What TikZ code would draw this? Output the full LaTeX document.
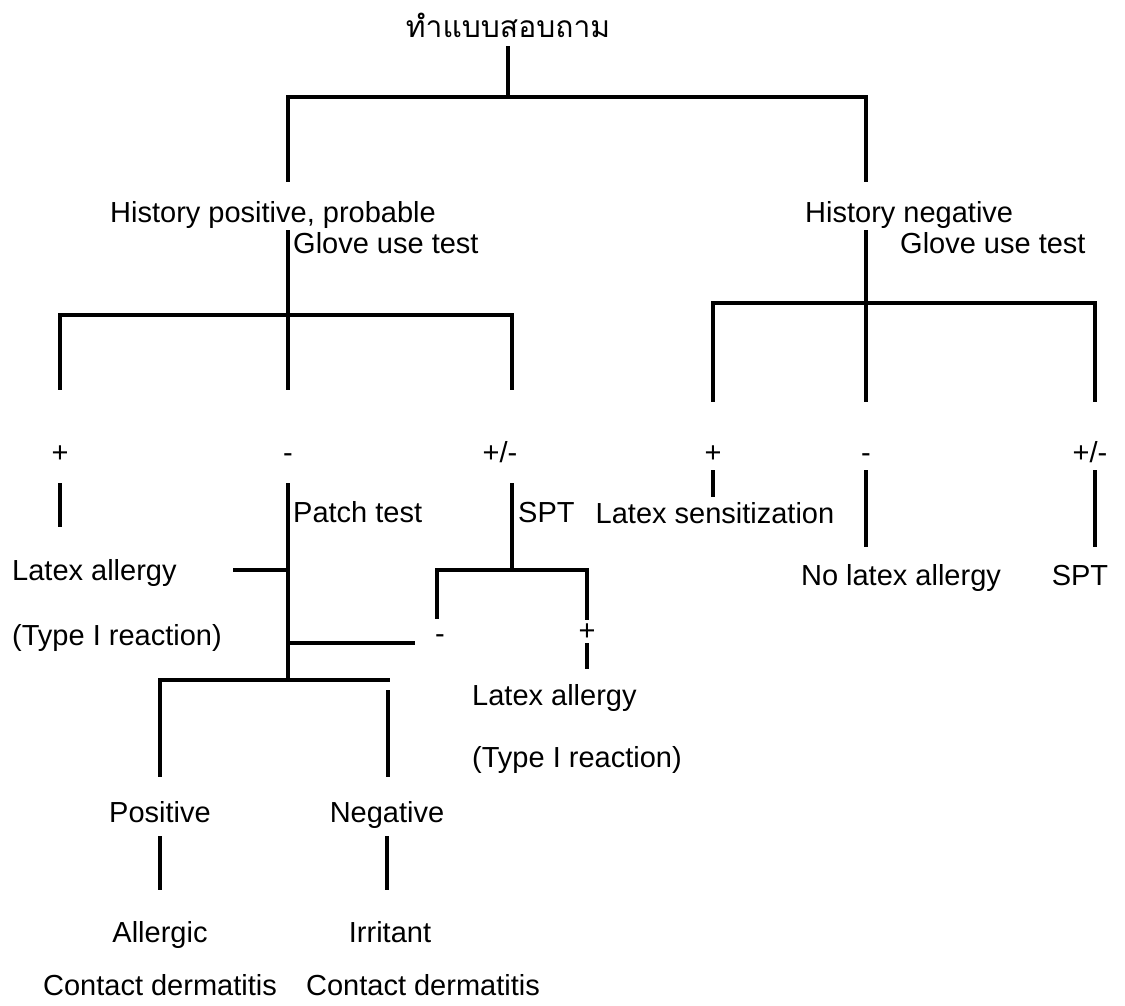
\documentclass[tikz,border=0pt]{standalone}
\usepackage{fontspec}
\setmainfont{Liberation Sans}
\newfontfamily\thaifont[Script=Thai]{Loma}
\begin{document}
\begin{tikzpicture}[x=1pt,y=-1pt,
  lbl/.style={inner sep=0pt, font=\fontsize{29}{34}\selectfont},
  conn/.style={line width=3.1pt, line cap=rect, line join=miter}]
\useasboundingbox (0,0) rectangle (1125,1005);
% ---------- text nodes ----------
\node[lbl, anchor=base, font=\thaifont\fontsize{30}{36}\selectfont] (title) at (508,37) {ทำแบบสอบถาม};
\node[lbl, anchor=base west] (hp) at (110,222) {History positive, probable};
\node[lbl, anchor=base west] (hn) at (805,222) {History negative};
\node[lbl, anchor=base west] (g1) at (293,253) {Glove use test};
\node[lbl, anchor=base west] (g2) at (900,253) {Glove use test};
\node[lbl, anchor=base] (p1) at (60,462) {+};
\node[lbl, anchor=base] (m1) at (288,462) {-};
\node[lbl, anchor=base] (pm1) at (500,462) {+/-};
\node[lbl, anchor=base] (p2) at (713,462) {+};
\node[lbl, anchor=base] (m2) at (866,462) {-};
\node[lbl, anchor=base] (pm2) at (1090,462) {+/-};
\node[lbl, anchor=base west] (la1) at (12,580) {Latex allergy};
\node[lbl, anchor=base west] (t1) at (12,645) {(Type I reaction)};
\node[lbl, anchor=base west] (pt) at (293,522) {Patch test};
\node[lbl, anchor=base west] (spt1) at (518,522) {SPT};
\node[lbl, anchor=base] (ls) at (715,523) {Latex sensitization};
\node[lbl, anchor=base] (nla) at (901,585) {No latex allergy};
\node[lbl, anchor=base] (spt2) at (1080,585) {SPT};
\node[lbl, anchor=base] (sm) at (440,643) {-};
\node[lbl, anchor=base] (sp) at (587,640) {+};
\node[lbl, anchor=base west] (la2) at (472,705) {Latex allergy};
\node[lbl, anchor=base west] (t2) at (472,767) {(Type I reaction)};
\node[lbl, anchor=base] (pos) at (160,822) {Positive};
\node[lbl, anchor=base] (neg) at (387,822) {Negative};
\node[lbl, anchor=base] (alg) at (160,942) {Allergic};
\node[lbl, anchor=base] (irr) at (390,942) {Irritant};
\node[lbl, anchor=base] (cd1) at (160,995) {Contact dermatitis};
\node[lbl, anchor=base] (cd2) at (423,995) {Contact dermatitis};
% ---------- junction coordinates ----------
\coordinate (a0) at (508,48);   \coordinate (a1) at (508,97);
\coordinate (b1) at (288,97);   \coordinate (b2) at (866,97);
\coordinate (b1d) at (288,180); \coordinate (b2d) at (866,180);
\coordinate (c0) at (288,232);  \coordinate (c1) at (288,388);
\coordinate (c2) at (60,315);   \coordinate (c3) at (512,315);
\coordinate (c2d) at (60,388);  \coordinate (c3d) at (512,388);
\coordinate (d0) at (866,232);  \coordinate (d1) at (866,400);
\coordinate (d2) at (713,303);  \coordinate (d3) at (1095,303);
\coordinate (d2d) at (713,400); \coordinate (d3d) at (1095,400);
\coordinate (e0) at (60,485);   \coordinate (e1) at (60,525);
\coordinate (f0) at (288,485);  \coordinate (f1) at (288,680);
\coordinate (f2) at (235,570);  \coordinate (f3) at (288,570);
\coordinate (f4) at (288,643);  \coordinate (f5) at (413,643);
\coordinate (g0) at (160,680);  \coordinate (g1) at (388,680);
\coordinate (g0d) at (160,775); \coordinate (g2) at (388,692);
\coordinate (g2d) at (388,775);
\coordinate (h0) at (512,485);  \coordinate (h1) at (512,570);
\coordinate (h2) at (437,570);  \coordinate (h3) at (587,570);
\coordinate (h2d) at (437,617); \coordinate (h3d) at (587,618);
\coordinate (h4) at (587,645);  \coordinate (h5) at (587,667);
\coordinate (i0) at (713,472);  \coordinate (i1) at (713,495);
\coordinate (k0) at (866,472);  \coordinate (k1) at (866,545);
\coordinate (l0) at (1095,472); \coordinate (l1) at (1095,545);
\coordinate (m0) at (160,838);  \coordinate (m1c) at (160,888);
\coordinate (n0) at (387,838);  \coordinate (n1) at (387,888);
% ---------- connectors ----------
\draw[conn] (a0) -- (a1);
\draw[conn] (b1d) -- (b1) -- (b2) -- (b2d);
\draw[conn] (c0) -- (c1);
\draw[conn] (c2d) -- (c2) -- (c3) -- (c3d);
\draw[conn] (d0) -- (d1);
\draw[conn] (d2d) -- (d2) -- (d3) -- (d3d);
\draw[conn] (e0) -- (e1);
\draw[conn] (f0) -- (f1);
\draw[conn] (f2) -- (f3);
\draw[conn] (f4) -- (f5);
\draw[conn] (g0d) -- (g0) -- (g1);
\draw[conn] (g2) -- (g2d);
\draw[conn] (h0) -- (h1);
\draw[conn] (h2d) -- (h2) -- (h3) -- (h3d);
\draw[conn] (h4) -- (h5);
\draw[conn] (i0) -- (i1);
\draw[conn] (k0) -- (k1);
\draw[conn] (l0) -- (l1);
\draw[conn] (m0) -- (m1c);
\draw[conn] (n0) -- (n1);
\end{tikzpicture}
\end{document}
